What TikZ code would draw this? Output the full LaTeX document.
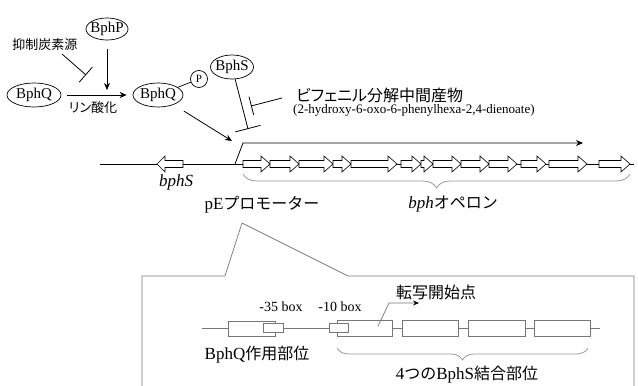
\documentclass[tikz,border=0pt]{standalone}
\usepackage{fontspec}
\setmainfont{Liberation Serif}
\newfontfamily\jp{Noto Sans CJK JP}
\newfontfamily\jpp{Noto Sans CJK JP}[RawFeature=+palt]
\usetikzlibrary{shapes.geometric,arrows.meta,decorations.pathreplacing}
\definecolor{lgray}{HTML}{777777}
\definecolor{bgray}{HTML}{9A9A9A}
\newcommand{\fs}[1]{\fontsize{#1}{#1}\selectfont}
\begin{document}
\begin{tikzpicture}[x=1pt,y=-1pt,
  ell/.style={draw, ellipse, inner sep=0pt, line width=0.7pt, font=\fs{15}},
  act/.style={-{Stealth[length=7pt,width=6pt]}, line width=0.8pt},
  inh/.style={-{Bar[width=#1]}, line width=0.8pt},
  gene/.style={draw=black, fill=white, line width=0.6pt},
  gline/.style={draw=lgray, line width=0.7pt},
  gbox/.style={draw=lgray, fill=white, line width=0.7pt},
  bracestyle/.style={draw=bgray, line width=0.8pt, decorate, decoration={brace, mirror, amplitude=#1}},
  lbl/.style={inner sep=0pt}
]
\useasboundingbox (0,0) rectangle (638,386);

% ---- top regulatory part ----
\node[ell, minimum width=42pt, minimum height=22pt] (bphp) at (107,29) {\makebox[0pt]{BphP}};
\node[ell, minimum width=54pt, minimum height=24pt] (bphq1) at (34,95) {\makebox[0pt]{BphQ}};
\node[ell, minimum width=50pt, minimum height=24pt] (bphq2) at (158,95) {\makebox[0pt]{BphQ}};
\node[draw, circle, minimum size=17pt, inner sep=0pt, line width=0.7pt, font=\fs{11}] (pp) at (199,79) {P};
\node[ell, minimum width=43pt, minimum height=24pt] (bphs) at (232,67) {\makebox[0pt]{BphS}};

\node[lbl, font=\jp\fs{13}] (yokusei) at (45,45) {抑制炭素源};
\node[lbl, font=\jpp\fs{13}] (rin) at (93,108) {リン酸化};
\node[lbl, anchor=west, font=\jpp\fs{16}] (bip) at (296,95) {ビフェニル分解中間産物};
\node[lbl, anchor=west, font=\fs{13}] (hopda) at (293,110.5) {(2-hydroxy-6-oxo-6-phenylhexa-2,4-dienoate)};

\coordinate (j1) at (107,90);
\coordinate (inhA) at (62,54);
\coordinate (inhB) at (86,75);
\coordinate (prom) at (232,141);
\coordinate (bsend) at (248,129);
\coordinate (bipS) at (282,98);
\coordinate (bipE) at (251,106);

\draw[act, shorten <=9pt] (bphp) -- (j1);
\draw[act, shorten <=6pt, shorten >=6pt] (bphq1) -- (bphq2);
\draw[inh=20pt] (inhA) -- (inhB);
\draw[line width=0.7pt] (bphq2) -- (pp);
\draw[act, shorten <=12pt] (bphq2) -- (prom);
\draw[inh=26pt] (bphs) -- (bsend);
\draw[inh=19pt] (bipS) -- (bipE);

% ---- main DNA ----
\coordinate (dnaL) at (100,164);
\coordinate (dnaR) at (634,164);
\draw[line width=0.8pt] (dnaL) -- (dnaR);
\draw[gene] (183,160.5) -- (165,160.5) -- (165,156) -- (157,164) -- (165,172) -- (165,167.5) -- (183,167.5) -- cycle;
\foreach \a/\b in {243/270, 270/299, 299/333, 333/351, 351/397, 401/421, 421/433, 433/461, 461/489, 489/517, 521/546, 549/587, 599/630}
  \draw[gene] (\a,160.5) -- (\b-9,160.5) -- (\b-9,156) -- (\b,164) -- (\b-9,172) -- (\b-9,167.5) -- (\a,167.5) -- cycle;

\coordinate (p0) at (235,164);
\coordinate (p1) at (243,143);
\coordinate (p2) at (583,143);
\draw[act] (p0) -- (p1) -- (p2);

\node[lbl, font=\fs{17}\itshape] (bphsl) at (176,182) {bphS};
\node[lbl] (pel) at (262,205) {\fs{17}pE{\jp\fs{16}プロモーター}};
\node[lbl] (operl) at (453,204) {\fs{17}\itshape bph{\upshape\jp\fs{16}オペロン}};

\coordinate (br1a) at (243,174);
\coordinate (br1b) at (630,174);
\draw[bracestyle=14pt] (br1a) -- (br1b);

% ---- callout ----
\coordinate (c1) at (142,386);
\coordinate (c2) at (142,276);
\coordinate (c3) at (225,276);
\coordinate (c4) at (242,223);
\coordinate (c5) at (348,276);
\coordinate (c6) at (634,276);
\coordinate (c7) at (634,386);
\draw[gline] (c1) -- (c2) -- (c3) -- (c4) -- (c5) -- (c6) -- (c7);

% ---- promoter detail ----
\coordinate (sL) at (202,328);
\coordinate (sR) at (600,328);
\draw[gline] (sL) -- (sR);
\draw[gbox] (228,321) rectangle (275,336);
\draw[gbox] (337,320) rectangle (392,336);
\draw[gbox] (402,320) rectangle (458,336);
\draw[gbox] (468,320) rectangle (525,336);
\draw[gbox] (534,320) rectangle (590,336);
\draw[gbox] (263,323) rectangle (283,332);
\draw[gbox] (329,323) rectangle (348,332);

\coordinate (t0) at (378,326);
\coordinate (t1) at (389,303);
\coordinate (t2) at (419,303);
\draw[draw=lgray, line width=0.7pt, -{Stealth[length=6pt,width=5pt,color=black]}] (t0) -- (t1) -- (t2);

\node[lbl, font=\fs{14}] (m35) at (281,307) {-35 box};
\node[lbl, font=\fs{14}] (m10) at (340,307) {-10 box};
\node[lbl, font=\jp\fs{16}] (tss) at (436,292) {転写開始点};
\node[lbl] (qsite) at (257,355) {\fs{17}BphQ{\jp\fs{16}作用部位}};
\node[lbl] (ssite) at (467,375) {\fs{17}4{\jp\fs{16}つの}BphS{\jp\fs{16}結合部位}};

\coordinate (br2a) at (337,348);
\coordinate (br2b) at (588,348);
\draw[bracestyle=12pt] (br2a) -- (br2b);
\end{tikzpicture}
\end{document}
